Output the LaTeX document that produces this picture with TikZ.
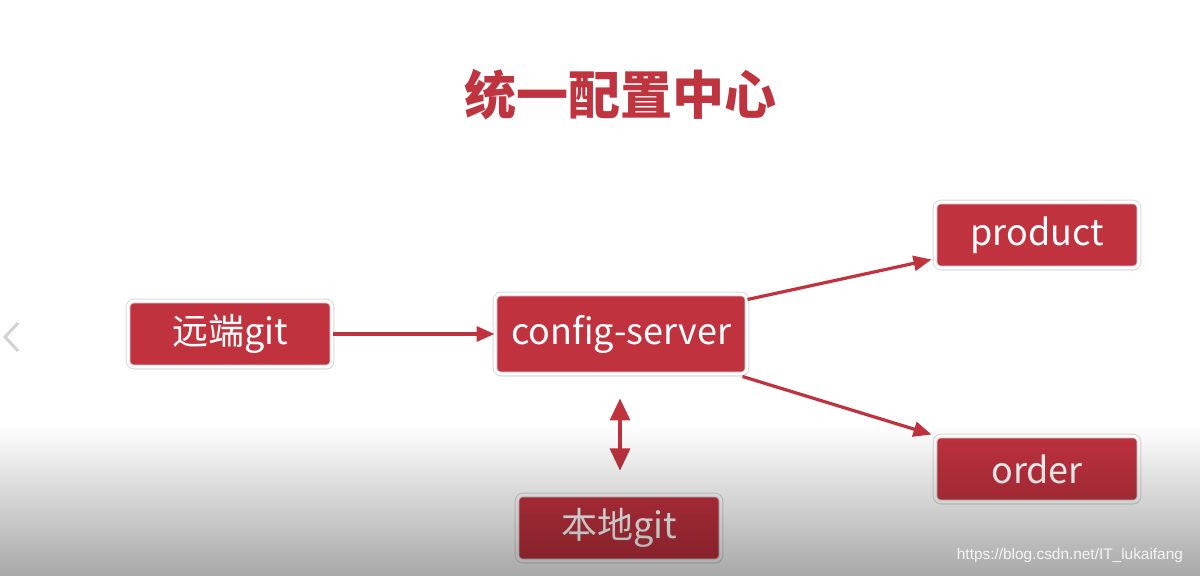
\documentclass[tikz,border=0pt]{standalone}
\usepackage{fontspec}
\setmainfont{Noto Sans CJK SC}
\newfontfamily\urlfont{Liberation Sans}
\usetikzlibrary{arrows.meta,shadows,fadings}

\definecolor{boxred}{HTML}{C1323F}
\definecolor{titlered}{HTML}{C0343F}
\tikzfading[name=fade bottom, top color=transparent!100, bottom color=transparent!0]

\begin{document}
\begin{tikzpicture}[x=0.5pt,y=-0.5pt,
    box/.style={draw=black!14,line width=0.5pt,double=white,double distance=1.3pt,
        fill=boxred,rounded corners=3pt,
        text=white,font=\fontsize{18}{20}\selectfont,
        minimum width=102pt,minimum height=33pt,inner sep=0pt,
        drop shadow={shadow xshift=0.6pt,shadow yshift=-1.2pt,opacity=0.3}},
    link/.style={draw=boxred,line width=1.6pt,-{Triangle[length=9pt,width=7.5pt]}},
    >=Triangle
]
\useasboundingbox (0,0) rectangle (1200,576);
\fill[white] (0,0) rectangle (1200,576);

\node[text=titlered,font=\fontsize{26}{30}\selectfont\bfseries] (title) at (620,95) {统一配置中心};

\node[box] (remote) at (230,334) {远端git};
\node[box,minimum width=126pt,minimum height=40pt] (server) at (621,334) {config-server};
\node[box] (product) at (1037,235) {product};
\node[box] (order) at (1037,469) {order};
\node[box] (local) at (619,528) {本地git};

\draw[link] (remote) -- (server);
\draw[link] ([xshift=0pt,yshift=-3pt]server.north east) -- ([xshift=-1.5pt,yshift=4.5pt]product.south west);
\draw[link] ([xshift=-2.5pt,yshift=-1pt]server.south east) -- ([xshift=-1.5pt,yshift=0.5pt]order.north west);
\draw[link,{Triangle[length=11pt,width=10pt]}-{Triangle[length=11pt,width=10pt]}]
    ([xshift=-0.5pt,yshift=-12pt]server.south) -- ([xshift=0.5pt,yshift=12pt]local.north);

% slide shading at the bottom
\fill[black,fill opacity=0.34,path fading=fade bottom] (0,425) rectangle (1200,576);

\draw[gray!35,line width=1.5pt] (18,323) -- (5,337) -- (18,351);
\node[anchor=east,text=white!92!gray,font=\urlfont\fontsize{7.7}{9}\selectfont] (mark) at (1190,556) {https://blog.csdn.net/IT\_lukaifang};
\end{tikzpicture}
\end{document}
